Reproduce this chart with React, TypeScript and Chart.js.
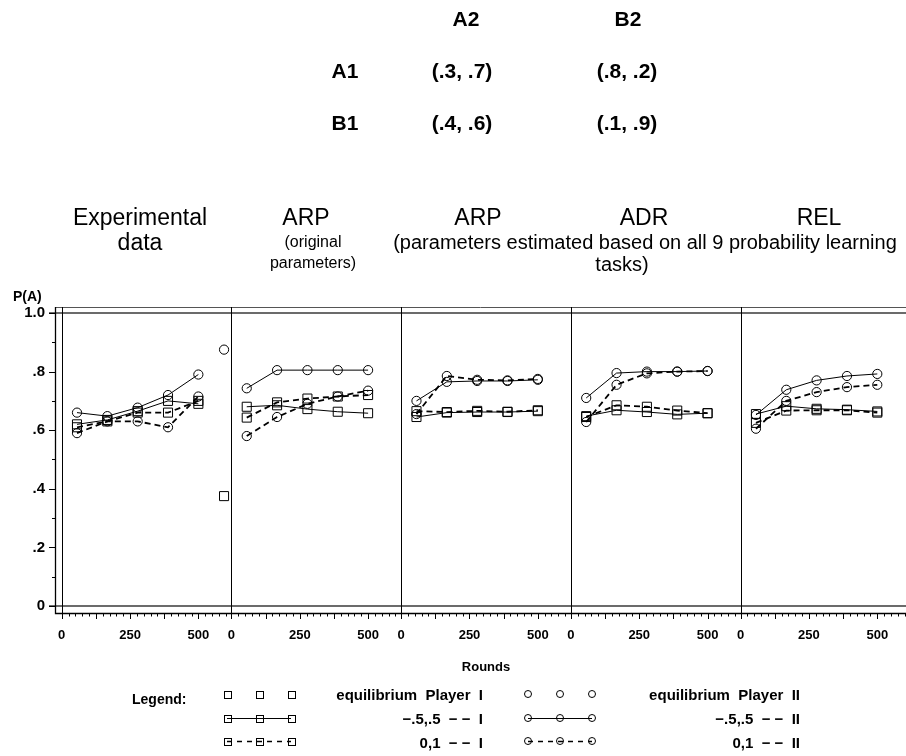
import React, { useEffect, useRef } from "react";
import { Chart, registerables } from "chart.js";

Chart.register(...registerables);

// ---------- data ----------
const rounds = [56, 167, 278, 389, 500];
const panelSpan = 621;
const panelOffsets = [0, 621, 1242, 1863, 2484];
const xTickLabels = [0, 250, 500];
const yTickValues = [0, 0.2, 0.4, 0.6, 0.8, 1.0];

// Experimental data
const expSqSolid = [0.62, 0.635, 0.665, 0.70, 0.69];
const expSqDash = [0.61, 0.63, 0.66, 0.66, 0.70];
const expCiSolid = [0.66, 0.648, 0.677, 0.72, 0.79];
const expCiDash = [0.59, 0.63, 0.63, 0.61, 0.715];
// ARP original parameters
const arpSqSolid = [0.68, 0.685, 0.672, 0.663, 0.658];
const arpSqDash = [0.643, 0.695, 0.708, 0.715, 0.72];
const arpCiSolid = [0.743, 0.805, 0.805, 0.805, 0.805];
const arpCiDash = [0.58, 0.645, 0.69, 0.715, 0.735];
// ARP estimated parameters
const arp2SqSolid = [0.645, 0.66, 0.662, 0.662, 0.665];
const arp2SqDash = [0.665, 0.662, 0.666, 0.663, 0.668];
const arp2CiSolid = [0.70, 0.765, 0.768, 0.768, 0.772];
const arp2CiDash = [0.655, 0.785, 0.772, 0.77, 0.775];
// ADR
const adrSqSolid = [0.648, 0.668, 0.662, 0.654, 0.658];
const adrSqDash = [0.645, 0.685, 0.68, 0.667, 0.658];
const adrCiSolid = [0.71, 0.795, 0.80, 0.80, 0.802];
const adrCiDash = [0.628, 0.755, 0.794, 0.80, 0.802];
// REL
const relSqSolid = [0.655, 0.682, 0.673, 0.67, 0.664];
const relSqDash = [0.625, 0.667, 0.668, 0.668, 0.66];
const relCiSolid = [0.652, 0.738, 0.77, 0.785, 0.792];
const relCiDash = [0.605, 0.70, 0.73, 0.747, 0.755];

// equilibrium
const eqRound = 594;
const eqPlayerI = 0.375;
const eqPlayerII = 0.875;

const panelSeries = [
  [expSqSolid, expSqDash, expCiSolid, expCiDash],
  [arpSqSolid, arpSqDash, arpCiSolid, arpCiDash],
  [arp2SqSolid, arp2SqDash, arp2CiSolid, arp2CiDash],
  [adrSqSolid, adrSqDash, adrCiSolid, adrCiDash],
  [relSqSolid, relSqDash, relCiSolid, relCiDash],
];

const FONT = "'Liberation Sans', Arial, Helvetica, sans-serif";

const X_MIN = -24.5;
const X_MAX = 3089;
const Y_MIN = -0.024;
const Y_MAX = 1.0205;

function drawSquare(ctx: CanvasRenderingContext2D, x: number, y: number, s: number) {
  ctx.strokeRect(Math.round(x - s / 2) + 0.5, Math.round(y - s / 2) + 0.5, s, s);
}
function drawCircle(ctx: CanvasRenderingContext2D, x: number, y: number, r: number) {
  ctx.beginPath();
  ctx.arc(x, y, r, 0, Math.PI * 2);
  ctx.stroke();
}

const framePlugin = {
  id: "frame",
  beforeDatasetsDraw(chart: any) {
    const { ctx, chartArea: a, scales } = chart;
    const x = scales.x;
    const y = scales.y;
    const h = (v: number) => Math.round(v) + 0.5;
    ctx.save();
    // reference lines at 0 and 1
    ctx.strokeStyle = "#3a3a3a";
    ctx.lineWidth = 1.5;
    for (const v of [0, 1]) {
      const py = y.getPixelForValue(v);
      ctx.beginPath();
      ctx.moveTo(a.left - 6, py);
      ctx.lineTo(a.right, py);
      ctx.stroke();
    }
    // top frame
    ctx.strokeStyle = "#555";
    ctx.lineWidth = 1;
    ctx.beginPath();
    ctx.moveTo(a.left, h(a.top));
    ctx.lineTo(a.right, h(a.top));
    ctx.stroke();
    // axes
    ctx.strokeStyle = "#000";
    ctx.lineWidth = 1.3;
    ctx.beginPath();
    ctx.moveTo(h(a.left), a.top);
    ctx.lineTo(h(a.left), h(a.bottom));
    ctx.lineTo(a.right, h(a.bottom));
    ctx.stroke();
    // panel dividers
    ctx.lineWidth = 1;
    for (const o of panelOffsets) {
      const px = h(x.getPixelForValue(o));
      ctx.beginPath();
      ctx.moveTo(px, a.top);
      ctx.lineTo(px, a.bottom + 6);
      ctx.stroke();
    }
    // x ticks
    ctx.lineWidth = 1;
    for (const o of panelOffsets) {
      for (let t = 25; t <= 600; t += 25) {
        const px = h(x.getPixelForValue(o + t));
        if (px > a.right) continue;
        const len = t % 125 === 0 ? 6 : 3.5;
        ctx.beginPath();
        ctx.moveTo(px, a.bottom);
        ctx.lineTo(px, a.bottom + len);
        ctx.stroke();
      }
    }
    // y ticks
    for (let i = 0; i <= 10; i++) {
      const v = i / 10;
      const py = h(y.getPixelForValue(v));
      const len = i % 2 === 0 ? 6 : 3;
      ctx.beginPath();
      ctx.moveTo(a.left - len, py);
      ctx.lineTo(a.left, py);
      ctx.stroke();
    }
    ctx.restore();
  },
};

const textPlugin = {
  id: "texts",
  afterDraw(chart: any) {
    const ctx: CanvasRenderingContext2D = chart.ctx;
    ctx.save();
    ctx.fillStyle = "#000";
    ctx.strokeStyle = "#000";
    ctx.textBaseline = "middle";
    const t = (s: string, x: number, y: number, font: string, align: CanvasTextAlign = "center") => {
      ctx.font = font;
      ctx.textAlign = align;
      ctx.fillText(s, x, y);
    };
    // payoff matrix
    const mf = `bold 21px ${FONT}`;
    t("A2", 466, 20, mf);
    t("B2", 628, 20, mf);
    t("A1", 345, 72, mf);
    t("(.3, .7)", 462, 72, mf);
    t("(.8, .2)", 627, 72, mf);
    t("B1", 345, 124, mf);
    t("(.4, .6)", 462, 124, mf);
    t("(.1, .9)", 627, 124, mf);
    // panel titles
    const tf = `23px ${FONT}`;
    const sf = `16px ${FONT}`;
    const lf2 = `20px ${FONT}`;
    t("Experimental", 140, 219, tf);
    t("data", 140, 244, tf);
    t("ARP", 306, 219, tf);
    t("(original", 313, 243, sf);
    t("parameters)", 313, 264, sf);
    t("ARP", 478, 219, tf);
    t("ADR", 644, 219, tf);
    t("REL", 819, 219, tf);
    t("(parameters estimated based on all 9 probability learning", 645, 243, lf2);
    t("tasks)", 622, 265, lf2);
    // P(A)
    t("P(A)", 13, 297, `bold 14px ${FONT}`, "left");
    // Rounds
    t("Rounds", 486, 667, `bold 13px ${FONT}`);
    // legend
    const lf = `bold 15px ${FONT}`;
    t("Legend:", 132, 700, `bold 14px ${FONT}`, "left");
    const rowsY = [694, 718, 741];
    const sqX = [227, 259, 291];
    const ciX = [528, 560, 592];
    ctx.lineWidth = 1;
    rowsY.forEach((ry, r) => {
      if (r > 0) {
        ctx.setLineDash(r === 2 ? [5, 5] : []);
        ctx.lineWidth = r === 2 ? 1.4 : 1;
        ctx.beginPath();
        ctx.moveTo(sqX[0], ry + 0.5);
        ctx.lineTo(sqX[2], ry + 0.5);
        ctx.moveTo(ciX[0], ry + 0.5);
        ctx.lineTo(ciX[2], ry + 0.5);
        ctx.stroke();
        ctx.setLineDash([]);
        ctx.lineWidth = 1;
      }
      sqX.forEach((sx) => drawSquare(ctx, sx, ry, 7));
      ciX.forEach((cx) => drawCircle(ctx, cx, ry, 3.5));
    });
    t("equilibrium  Player  I", 483, 696, lf, "right");
    t("\u2212.5,.5  \u2212 \u2212  I", 483, 720, lf, "right");
    t("0,1  \u2212 \u2212  I", 483, 744, lf, "right");
    t("equilibrium  Player  II", 800, 696, lf, "right");
    t("\u2212.5,.5  \u2212 \u2212  II", 800, 720, lf, "right");
    t("0,1  \u2212 \u2212  II", 800, 744, lf, "right");
    ctx.restore();
  },
};

export default function App() {
  const ref = useRef<HTMLCanvasElement>(null);
  useEffect(() => {
    if (!ref.current) return;
    const datasets: any[] = [];
    panelSeries.forEach((series, p) => {
      series.forEach((vals, s) => {
        const dashed = s % 2 === 1;
        const square = s < 2;
        datasets.push({
          label: `p${p}s${s}`,
          data: rounds.map((r, i) => ({ x: panelOffsets[p] + r, y: vals[i] })),
          borderColor: "#000",
          borderWidth: dashed ? 1.8 : 1,
          borderDash: dashed ? [6, 4] : [],
          pointStyle: square ? "rect" : "circle",
          pointRadius: square ? 6.4 : 4.6,
          pointBorderWidth: 1,
          pointBorderColor: "#000",
          pointBackgroundColor: "rgba(0,0,0,0)",
          tension: 0,
          showLine: true,
        });
      });
    });
    datasets.push({
      label: "eqI",
      data: [{ x: eqRound, y: eqPlayerI }],
      showLine: false,
      pointStyle: "rect",
      pointRadius: 6.4,
      pointBorderWidth: 1,
      pointBorderColor: "#000",
      pointBackgroundColor: "rgba(0,0,0,0)",
    });
    datasets.push({
      label: "eqII",
      data: [{ x: eqRound, y: eqPlayerII }],
      showLine: false,
      pointStyle: "circle",
      pointRadius: 4.6,
      pointBorderWidth: 1,
      pointBorderColor: "#000",
      pointBackgroundColor: "rgba(0,0,0,0)",
    });

    const chart = new Chart(ref.current, {
      type: "line",
      data: { datasets },
      options: {
        animation: false,
        responsive: false,
        devicePixelRatio: 1,
        layout: { autoPadding: false, padding: { top: 307, left: 0, right: 0, bottom: 0 } },
        plugins: {
          legend: { display: false },
          tooltip: { enabled: false },
          title: { display: false },
        },
        scales: {
          x: {
            type: "linear",
            min: X_MIN,
            max: X_MAX,
            grid: { display: false, drawTicks: false },
            border: { display: false },
            afterBuildTicks: (scale: any) => {
              scale.ticks = panelOffsets.flatMap((o) => xTickLabels.map((v) => ({ value: o + v })));
            },
            afterFit: (scale: any) => {
              scale.height = 756 - 613;
              scale.paddingLeft = 0;
              scale.paddingRight = 0;
            },
            ticks: {
              autoSkip: false,
              maxRotation: 0,
              minRotation: 0,
              padding: 15,
              color: "#000",
              font: { family: FONT, size: 13, weight: "bold" },
              callback: (v: any) => {
                const n = Number(v);
                const local = Math.round(((n % panelSpan) + panelSpan) % panelSpan);
                return String(local);
              },
            },
          },
          y: {
            type: "linear",
            min: Y_MIN,
            max: Y_MAX,
            grid: { display: false, drawTicks: false },
            border: { display: false },
            afterBuildTicks: (scale: any) => {
              scale.ticks = yTickValues.map((v) => ({ value: v }));
            },
            afterFit: (scale: any) => {
              scale.width = 55;
              scale.paddingTop = 0;
              scale.paddingBottom = 0;
            },
            ticks: {
              padding: 10,
              color: "#000",
              font: { family: FONT, size: 15, weight: "bold" },
              callback: (v: any) => {
                const n = Number(v);
                if (n === 0) return "0";
                if (n === 1) return "1.0";
                return "." + Math.round(n * 10);
              },
            },
          },
        },
      },
      plugins: [framePlugin, textPlugin],
    });
    return () => chart.destroy();
  }, []);

  return (
    <div style={{ position: "absolute", left: 0, top: 0, width: 906, height: 756, background: "#fff" }}>
      <canvas ref={ref} width={906} height={756} style={{ width: 906, height: 756, display: "block" }} />
    </div>
  );
}
